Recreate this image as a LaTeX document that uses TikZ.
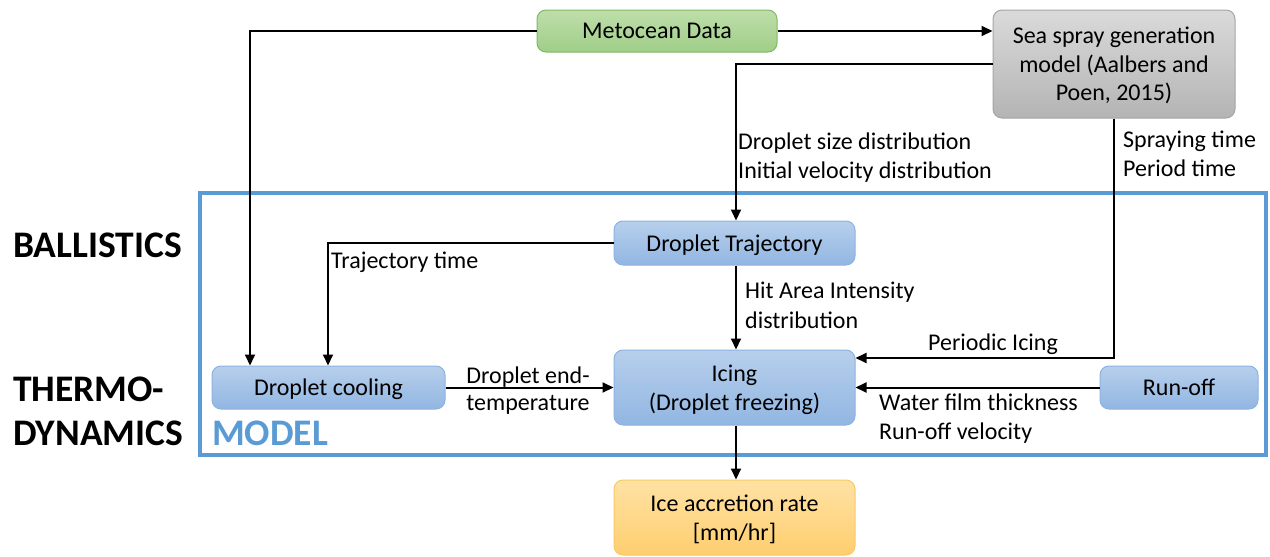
\documentclass[tikz,border=0pt]{standalone}
\usepackage{fontspec}
\setmainfont{Carlito}
\usetikzlibrary{arrows.meta}
\definecolor{bluetop}{RGB}{183,207,236}
\definecolor{bluebot}{RGB}{146,182,226}
\definecolor{bluedraw}{RGB}{140,178,224}
\definecolor{greentop}{RGB}{190,222,170}
\definecolor{greenbot}{RGB}{160,206,136}
\definecolor{greendraw}{RGB}{130,185,100}
\definecolor{graytop}{RGB}{218,218,218}
\definecolor{graybot}{RGB}{180,180,180}
\definecolor{graydraw}{RGB}{165,165,165}
\definecolor{orangetop}{RGB}{255,226,165}
\definecolor{orangebot}{RGB}{254,206,110}
\definecolor{orangedraw}{RGB}{250,200,100}
\definecolor{modelblue}{RGB}{91,155,213}
\tikzset{
  box/.style={rounded corners=9pt, line width=1pt, inner sep=0pt, align=center,
    text depth=0pt, font=\fontsize{24}{28.5}\selectfont},
  bluebox/.style={box, top color=bluetop, bottom color=bluebot, draw=bluedraw},
  greenbox/.style={box, top color=greentop, bottom color=greenbot, draw=greendraw},
  graybox/.style={box, top color=graytop, bottom color=graybot, draw=graydraw},
  orangebox/.style={box, top color=orangetop, bottom color=orangebot, draw=orangedraw},
  arr/.style={line width=2pt, -{Triangle[width=10pt,length=11pt]}},
  lbl/.style={inner sep=0pt, align=left, font=\fontsize{24}{29.5}\selectfont},
  side/.style={inner sep=0pt, align=left, font=\fontsize{37.5}{44}\selectfont\bfseries},
}
\begin{document}
\begin{tikzpicture}[x=1pt,y=-1pt]
\useasboundingbox (0,0) rectangle (1270,557);
% model frame
\draw[modelblue, line width=4pt] (200,193) rectangle (1266,455);
% nodes
\node[greenbox, minimum width=240pt, minimum height=42pt] (met) at (657,31) {Metocean Data};
\node[graybox, minimum width=242pt, minimum height=108pt] (sea) at (1114,64) {Sea spray generation\\model (Aalbers and\\Poen, 2015)};
\node[bluebox, minimum width=241pt, minimum height=44pt] (traj) at (734.5,243) {Droplet Trajectory};
\node[bluebox, minimum width=233pt, minimum height=43pt] (cool) at (328.5,387.5) {Droplet cooling};
\node[bluebox, minimum width=241pt, minimum height=75pt] (ice) at (734.5,387.5) {Icing\\(Droplet freezing)};
\node[bluebox, minimum width=158pt, minimum height=43pt] (run) at (1179,387.5) {Run-off};
\node[orangebox, minimum width=241pt, minimum height=75pt] (acc) at (734.5,517.5) {Ice accretion rate\\{[mm/hr]}};
% side labels
\node[side, anchor=west] (ball) at (13,245) {BALLISTICS};
\node[side, anchor=west] (thermo) at (13,411) {THERMO-\\DYNAMICS};
\node[side, anchor=west, text=modelblue] (model) at (212,433) {MODEL};
% coordinates
\coordinate (c1) at (250,31);
\coordinate (c2) at (736,64);
\coordinate (c3) at (1114,358);
\coordinate (c4) at (328,243);
% connectors
\draw[arr] (met.west) -- (c1) -- (c1 |- cool.north);
\draw[arr] (met.east) -- (met.east -| sea.west);
\draw[arr] (c2 -| sea.west) -- (c2) -- (c2 |- traj.north);
\draw[arr] (sea.south) -- (c3) -- (c3 -| ice.east);
\draw[arr] (traj.west) -- (c4) -- (c4 |- cool.north);
\draw[arr] (traj.south -| c2) -- (c2 |- ice.north);
\draw[arr] (cool.east) -- (ice.west);
\draw[arr] (run.west) -- (ice.east |- run.west);
\draw[arr] (ice.south -| c2) -- (c2 |- acc.north);
% connector labels
\node[lbl, anchor=west] (l1) at (738,157.5) {Droplet size distribution\\Initial velocity distribution};
\node[lbl, anchor=west] (l2) at (1123,154) {Spraying time\\Period time};
\node[lbl, anchor=west] (l3) at (331,262) {Trajectory time};
\node[lbl, anchor=west] (l4) at (745,305.5) {Hit Area Intensity\\distribution};
\node[lbl] (l5) at (993,344) {Periodic Icing};
\node[lbl, align=center, font=\fontsize{24}{27}\selectfont] (l6) at (528,391) {Droplet end-\\temperature};
\node[lbl, anchor=west] (l7) at (879,418.5) {Water film thickness\\Run-off velocity};
\end{tikzpicture}
\end{document}
